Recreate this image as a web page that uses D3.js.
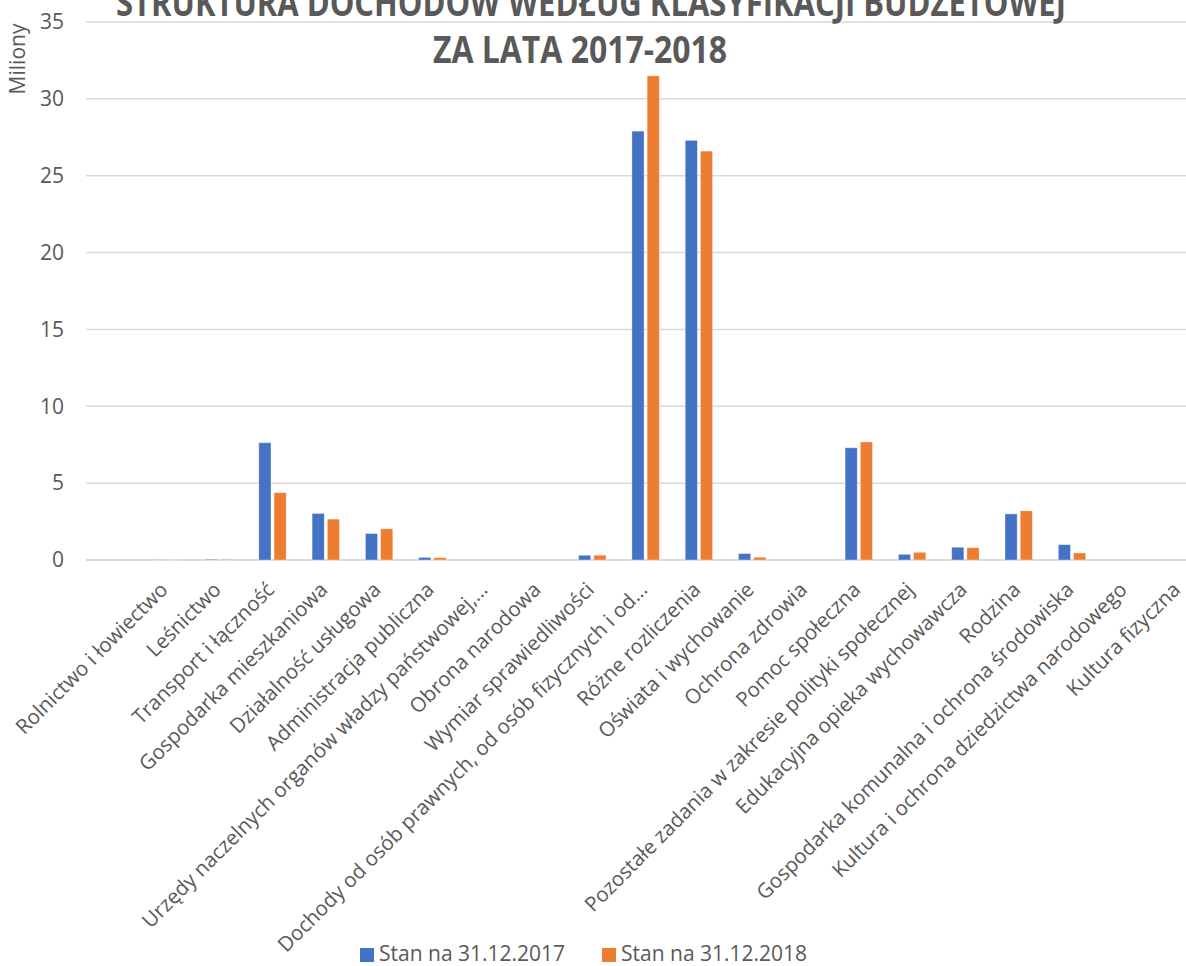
<!DOCTYPE html>
<html>
<head>
<meta charset="utf-8">
<script src="https://cdn.jsdelivr.net/npm/d3@7"></script>
<style>
  html, body { margin: 0; padding: 0; background: #fff; }
  svg { display: block; }
  text { font-family: "Open Sans", "Noto Sans", sans-serif; fill: #595959; }
</style>
</head>
<body>
<svg id="chart" width="1186" height="966"></svg>
<script>
const categories = [
  "Rolnictwo i łowiectwo",
  "Leśnictwo",
  "Transport i łączność",
  "Gospodarka mieszkaniowa",
  "Działalność usługowa",
  "Administracja publiczna",
  "Urzędy naczelnych organów władzy państwowej,…",
  "Obrona narodowa",
  "Wymiar sprawiedliwości",
  "Dochody od osób prawnych, od osób fizycznych i od…",
  "Różne rozliczenia",
  "Oświata i wychowanie",
  "Ochrona zdrowia",
  "Pomoc społeczna",
  "Pozostałe zadania w zakresie polityki społecznej",
  "Edukacyjna opieka wychowawcza",
  "Rodzina",
  "Gospodarka komunalna i ochrona środowiska",
  "Kultura i ochrona dziedzictwa narodowego",
  "Kultura fizyczna"
];
const seriesNames = ["Stan na 31.12.2017", "Stan na 31.12.2018"];
const values2017 = [0.01, 0.05, 7.63, 3.03, 1.72, 0.17, 0.0, 0.0, 0.31, 27.9, 27.3, 0.42, 0.0, 7.3, 0.37, 0.83, 3.0, 1.0, 0.0, 0.0];
const values2018 = [0.01, 0.05, 4.38, 2.66, 2.03, 0.15, 0.0, 0.0, 0.31, 31.5, 26.6, 0.18, 0.0, 7.68, 0.5, 0.8, 3.2, 0.46, 0.0, 0.0];
const yTicks = [0, 5, 10, 15, 20, 25, 30, 35];
const titleLines = ["STRUKTURA DOCHODÓW WEDŁUG KLASYFIKACJI BUDŻETOWEJ", "ZA LATA 2017-2018"];
const yAxisTitle = "Miliony";
const colors = ["#4472C4", "#ED7D31"];

const svg = d3.select("#chart");
const gridLeft = 86, gridRight = 1186;
const y = d3.scaleLinear().domain([0, 35]).range([560, 22]);
const x = d3.scaleBand().domain(categories).range([139.25, 1205.25]);
const xs = d3.scaleBand().domain([0, 1]).range([-13.7, 13.7]).paddingInner(0.2);

// gridlines
svg.append("g").selectAll("line").data(yTicks).join("line")
  .attr("x1", gridLeft).attr("x2", gridRight)
  .attr("y1", d => y(d)).attr("y2", d => y(d))
  .attr("stroke", "#d9d9d9").attr("stroke-width", d => d === 0 ? 2 : 1.5);

// y tick labels
svg.append("g").selectAll("text").data(yTicks).join("text")
  .attr("x", 64).attr("y", d => y(d)).attr("dy", "0.35em")
  .attr("text-anchor", "end").style("font-size", "21px")
  .text(d => d);

// y axis title
svg.append("text")
  .attr("transform", "translate(25,59) rotate(-90)")
  .attr("text-anchor", "middle").style("font-size", "21px")
  .text(yAxisTitle);

// bars
const rows = categories.map((c, i) => ({c, v: [values2017[i], values2018[i]]}));
const grp = svg.append("g").selectAll("g").data(rows).join("g")
  .attr("transform", d => `translate(${x(d.c) + x.bandwidth() / 2},0)`);
grp.selectAll("rect").data(d => d.v.map((v, k) => ({v, k}))).join("rect")
  .attr("x", d => xs(d.k)).attr("width", xs.bandwidth())
  .attr("y", d => y(d.v)).attr("height", d => y(0) - y(d.v))
  .attr("fill", d => colors[d.k])
  .attr("stroke", "#ffffff").attr("stroke-opacity", 0.45).attr("stroke-width", 0.8);

// x labels
svg.append("g").selectAll("text").data(categories).join("text")
  .attr("transform", d => `translate(${x(d) + x.bandwidth() / 2 + 3},591) rotate(-45)`)
  .attr("text-anchor", "end").style("font-size", "20.5px")
  .text(d => d);

// title
svg.append("text").attr("x", 591).attr("y", 16).attr("text-anchor", "middle")
  .style("font-size", "37px").style("font-weight", "bold")
  .attr("textLength", 950).attr("lengthAdjust", "spacingAndGlyphs")
  .text(titleLines[0]);
svg.append("text").attr("x", 580).attr("y", 63).attr("text-anchor", "middle")
  .style("font-size", "37px").style("font-weight", "bold")
  .attr("textLength", 294).attr("lengthAdjust", "spacingAndGlyphs")
  .text(titleLines[1]);

// legend
const legX = [360, 602];
const leg = svg.append("g").selectAll("g").data(seriesNames).join("g")
  .attr("transform", (d, i) => `translate(${legX[i]},0)`);
leg.append("rect").attr("x", 0).attr("y", 948).attr("width", 14).attr("height", 14)
  .attr("fill", (d, i) => colors[i]);
leg.append("text").attr("x", 19).attr("y", 961).style("font-size", "21px").text(d => d);
</script>
</body>
</html>
